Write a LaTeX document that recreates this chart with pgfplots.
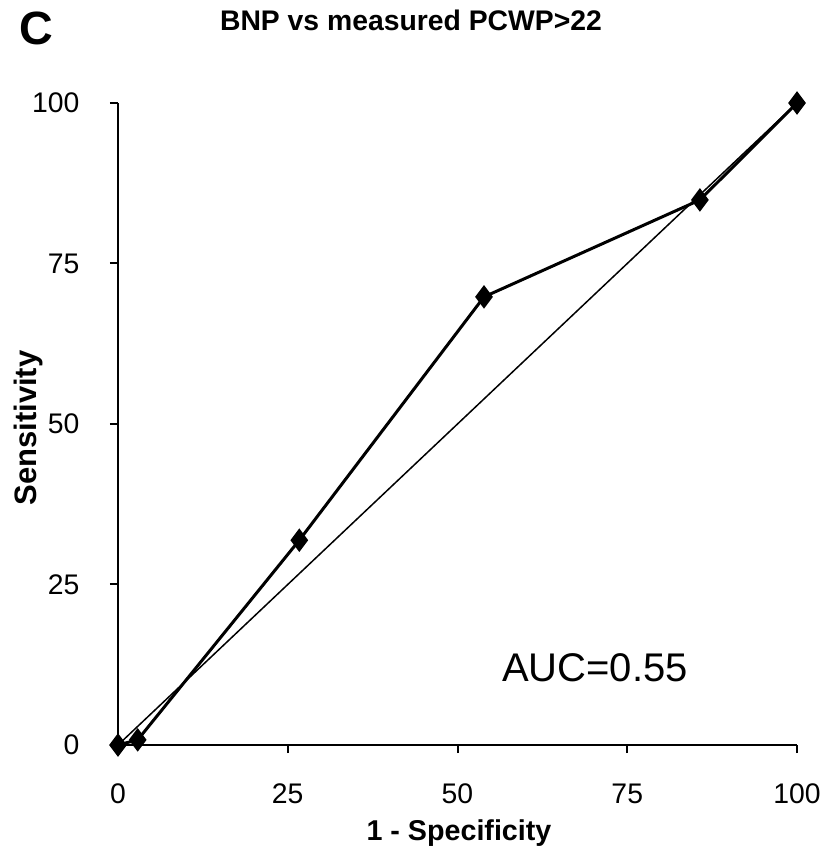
\documentclass[border=0pt]{standalone}
\usepackage{pgfplots}
\pgfplotsset{compat=1.18}
\usepackage{fontspec}
\setmainfont{Liberation Sans}
\begin{document}
\begin{tikzpicture}[x=0.3pt,y=0.3pt]
\begin{axis}[
  name=ax, at={(0,0)}, anchor=south west,
  scale only axis, width=203.7pt, height=192.6pt,
  xmin=0, xmax=100, ymin=0, ymax=100,
  axis lines=left, axis line style={line width=0.75pt, -},
  xtick={0,25,50,75,100}, ytick={0,25,50,75,100},
  tick align=outside, major tick length=2.4pt,
  tick style={line width=0.6pt, black},
  tick label style={font=\fontsize{8.5}{10}\selectfont, inner sep=0pt},
  xticklabel style={anchor=north, yshift=-9pt},
  yticklabel style={anchor=east, xshift=-9pt},
  /pgf/number format/assume math mode=true,
  clip=false,
]
\addplot[line width=0.45pt, black] coordinates {(0,0) (100,100)};
\addplot[line width=0.9pt, black, mark=diamond*, mark size=2.8pt, mark options={solid, fill=black}]
  coordinates {(0,0) (2.9,0.8) (26.7,31.9) (53.9,69.8) (85.7,84.9) (100,100)};
\end{axis}
\node[font=\bfseries\fontsize{8.5}{10}\selectfont] at (293,725) {BNP vs measured PCWP>22};
\node[font=\bfseries\fontsize{14}{16}\selectfont] at (-82,717) {C};
\node[font=\fontsize{12}{14}\selectfont] at (477,77) {AUC=0.55};
\node[font=\bfseries\fontsize{8.6}{10}\selectfont] at (341,-88) {1 - Specificity};
\node[font=\bfseries\fontsize{9.3}{11}\selectfont, rotate=90] at (-90,317) {Sensitivity};
\pgfresetboundingbox
\useasboundingbox (-118,-102) rectangle (714,745);
\end{tikzpicture}
\end{document}
